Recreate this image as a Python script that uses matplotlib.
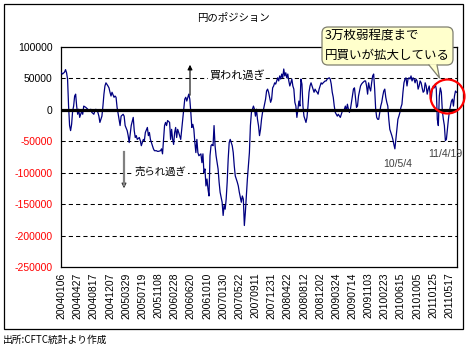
import datetime as dt
import matplotlib
matplotlib.use("Agg")
import matplotlib.pyplot as plt
from matplotlib.patches import FancyBboxPatch, Polygon, Ellipse, Rectangle, FancyArrowPatch
from matplotlib.lines import Line2D
from matplotlib.transforms import IdentityTransform

JP = ['Noto Sans CJK JP', 'DejaVu Sans']
NUM = ['Liberation Sans', 'DejaVu Sans']

title = "円のポジション"
source_note = "出所:CFTC統計より作成"
callout_lines = ["3万枚弱程度まで", "円買いが拡大している"]
label_overbought = "買われ過ぎ"
label_oversold = "売られ過ぎ"
low_labels = ["10/5/4", "11/4/19"]

first_date = "20040106"
tick_labels = ["20040106", "20040427", "20040817", "20041207", "20050329", "20050719",
               "20051108", "20060228", "20060620", "20061010", "20070130", "20070522",
               "20070911", "20071231", "20080422", "20080812", "20081202", "20090324",
               "20090714", "20091103", "20100223", "20100615", "20101005", "20110125",
               "20110517"]
y_ticks = [100000, 50000, 0, -50000, -100000, -150000, -200000, -250000]
grid_levels = [50000, -50000, -100000, -150000, -200000]
n_weeks = 392

# weeks since 2004-01-06 and net yen position (contracts)
week_index = [0, 1, 3, 4, 5, 6, 7, 8, 9, 10, 11, 12, 13, 14, 15, 16, 17, 18, 20, 21, 22, 24, 26, 27,
              29, 30, 32, 33, 34, 36, 37, 38, 40, 41, 42, 43, 44, 46, 47, 48, 49, 50, 52, 53, 54, 55,
              57, 58, 59, 61, 62, 63, 65, 66, 67, 68, 69, 71, 72, 73, 74, 75, 77, 78, 79, 81, 82, 83,
              85, 86, 87, 88, 90, 91, 92, 94, 95, 96, 98, 99, 100, 101, 102, 103, 104, 105, 107, 108,
              109, 110, 111, 112, 113, 114, 115, 116, 118, 119, 120, 121, 122, 123, 124, 126, 127, 128,
              129, 130, 131, 132, 133, 134, 135, 136, 138, 139, 140, 141, 142, 143, 144, 145, 146, 147,
              148, 149, 150, 151, 152, 153, 155, 156, 157, 159, 160, 161, 162, 163, 164, 165, 166, 167,
              169, 170, 171, 172, 174, 175, 176, 178, 179, 180, 181, 182, 183, 184, 186, 187, 188, 190,
              191, 192, 193, 194, 195, 196, 197, 198, 199, 200, 202, 203, 204, 205, 206, 207, 208, 209,
              210, 211, 212, 214, 215, 216, 217, 218, 219, 220, 221, 222, 223, 224, 225, 226, 227, 228,
              229, 230, 231, 232, 233, 234, 235, 236, 237, 238, 239, 240, 241, 242, 243, 244, 245, 246,
              247, 248, 249, 250, 251, 252, 253, 254, 255, 256, 257, 258, 259, 261, 262, 263, 265, 266,
              267, 268, 269, 270, 271, 272, 273, 274, 276, 277, 278, 280, 281, 282, 283, 284, 285, 286,
              288, 289, 290, 291, 292, 293, 294, 296, 297, 298, 300, 301, 302, 303, 304, 305, 306, 307,
              308, 309, 310, 311, 312, 313, 314, 315, 316, 317, 318, 319, 320, 321, 322, 323, 324, 325,
              326, 327, 328, 329, 330, 331, 332, 333, 334, 335, 336, 337, 338, 339, 340, 341, 342, 343,
              344, 345, 346, 347, 348, 349, 350, 351, 352, 353, 354, 355, 356, 357, 358, 359, 360, 361,
              362, 363, 364, 365, 366, 367, 368, 369, 370, 371, 372, 373, 374, 375, 376, 377, 378, 379,
              380, 381, 382, 383, 384, 385, 386, 387, 388, 389, 390, 391]
net_position = [59000, 57000, 60000, 64000, 59000, 49000, 6000, -25000, -33000, -23000, -2000, 6000,
                22000, 25000, 6000, -7000, 1000, -12000, -2000, -7000, 6000, 4000, 1000, -2000,
                1000, -4000, -7000, -2000, 1000, -4000, -10000, -20000, -10000, 6000, 25000, 38000,
                43000, 38000, 35000, 28000, 22000, 28000, 20000, 22000, 20000, 4000,
                -15000, -25000, -10000, -7000, -10000, -25000, -33000, -41000, -52000, -39000, -25000,
                -12000, -33000, -44000, -41000, -47000, -44000, -49000, -57000, -47000, -49000, -36000,
                -28000, -41000, -36000, -47000, -57000, -62000, -65000, -65000, -66000, -66000, -65000,
                -62000, -70000, -47000, -25000, -20000, -25000, -17000, -20000, -47000,
                -31000, -47000, -55000, -36000, -28000, -44000, -31000, -36000, -47000, -31000, -15000,
                1000, 17000, 20000, 14000, 25000, 17000, -4000,
                -28000, -23000, -31000, -52000, -68000, -47000, -68000, -73000, -70000, -84000, -70000,
                -100000, -94000, -121000, -110000, -126000, -137000, -73000,
                -57000, -55000, -57000, -25000, -57000, -73000, -94000, -115000, -131000, -147000,
                -168000, -152000, -158000, -142000, -115000, -78000, -52000, -47000,
                -57000, -68000, -89000, -105000, -115000, -121000, -131000, -147000, -137000, -142000,
                -184000, -163000, -137000, -110000, -68000, -25000, -4000, 6000,
                1000, -10000, 1000, -15000, -25000, -41000, -31000, -15000, -4000, 1000, 17000, 30000,
                33000, 28000, 20000, 12000, 17000, 35000,
                38000, 43000, 41000, 51000, 46000, 54000, 49000, 57000, 51000, 65000, 54000, 59000,
                51000, 57000, 46000, 38000, 43000, 49000,
                38000, 33000, 12000, 6000, -12000, 1000, 14000, 6000, 49000, 41000, 6000, -10000,
                -15000, -20000, -12000, 6000, 28000, 38000,
                43000, 38000, 33000, 28000, 33000, 30000, 28000, 25000, 33000, 38000, 43000, 41000,
                43000, 46000, 46000, 49000, 51000, 49000,
                41000, 28000, 20000, 6000, -4000, -7000, -10000, -7000, -12000, -7000, -2000, 1000,
                6000, -2000, 9000, 1000, -4000, 1000,
                22000, 33000, 35000, 20000, 4000, 6000, 22000, 38000, 41000, 43000, 46000, 46000,
                38000, 25000, 43000, 35000, 30000, 43000,
                54000, 57000, 33000, 1000, -12000, -15000, -15000, -4000, 6000, 12000, 22000, 30000,
                33000, 20000, 12000, 6000, -15000, -31000,
                -36000, -41000, -47000, -55000, -62000, -47000, -31000, -15000, -10000, -4000, 4000,
                9000, 28000, 43000, 49000, 51000, 38000, 49000,
                51000, 49000, 54000, 46000, 51000, 49000, 43000, 49000, 46000, 33000, 38000, 46000,
                43000, 35000, 28000, 30000, 43000, 38000,
                25000, 33000, 38000, 25000, 17000, 33000, 38000, 35000, 41000, 33000, -15000, -25000,
                22000, 35000, 28000, -2000, -15000, -25000,
                -49000, -47000, -31000, -15000, -2000, 6000, 14000, 17000, 6000, 22000, 30000, 28000]

W, H = 469, 350
fig = plt.figure(figsize=(W / 100, H / 100), dpi=100)
fig.patch.set_facecolor('white')


def fx(px):
    return px / W


def fy(py):
    return 1 - py / H


def disp(px, py):
    return (px, H - py)


ax = fig.add_axes([fx(61), fy(267), (457 - 61) / W, (267 - 47) / H])
ax.plot(week_index, net_position, color='#000080', lw=0.9, zorder=3)
ax.axhline(0, color='black', lw=2.3, zorder=4)
for lvl in grid_levels:
    ax.axhline(lvl, color='black', lw=0.75, ls=(0, (4, 3)), zorder=1)
ax.set_xlim(-0.5, n_weeks - 0.5)
ax.set_ylim(-250000, 100000)

base = dt.datetime.strptime(first_date, "%Y%m%d")
tick_pos = [round((dt.datetime.strptime(s, "%Y%m%d") - base).days / 7) for s in tick_labels]
ax.set_xticks(tick_pos)
ax.set_xticklabels(tick_labels, rotation=90, fontsize=7.5, family=NUM, va='top', ha='center')
ax.set_yticks(y_ticks)
ax.set_yticklabels([str(v) for v in y_ticks], fontsize=7.5, family=NUM)
for lbl, v in zip(ax.get_yticklabels(), y_ticks):
    lbl.set_color('red' if v < 0 else 'black')
ax.tick_params(axis='x', length=0, pad=4)
ax.tick_params(axis='y', length=0, pad=6)
for sp in ax.spines.values():
    sp.set_linewidth(0.9)
    sp.set_color('black')

# outer frame
fig.add_artist(Rectangle(disp(4, 329), 459, 325, transform=IdentityTransform(),
                         fill=False, edgecolor='black', lw=0.9))

fig.text(fx(233), fy(18), title, ha='center', va='center', fontsize=7.5, family=JP)
fig.text(fx(3), fy(340), source_note, ha='left', va='center', fontsize=7, family=JP)

# overbought / oversold annotations
fig.text(fx(209), fy(75), label_overbought, ha='left', va='center', fontsize=8, family=JP,
         bbox=dict(facecolor='white', edgecolor='none', pad=0.5))
fig.add_artist(FancyArrowPatch(disp(190, 98), disp(190, 62), transform=IdentityTransform(),
                               arrowstyle='-|>', mutation_scale=7, color='black', lw=0.8))
fig.text(fx(135), fy(172), label_oversold, ha='left', va='center', fontsize=7.5, family=JP,
         bbox=dict(facecolor='white', edgecolor='none', pad=0.5))
fig.add_artist(Line2D([124, 124], [H - 152, H - 185], transform=IdentityTransform(),
                      color='#808080', lw=1.6))
fig.add_artist(FancyArrowPatch(disp(124, 181), disp(124, 191), transform=IdentityTransform(),
                               arrowstyle='-|>', mutation_scale=7, color='#333333', lw=0.8))

fig.text(fx(398), fy(164), low_labels[0], ha='center', va='center', fontsize=7.5,
         family=NUM, color='#404040')
fig.text(fx(445), fy(154), low_labels[1], ha='center', va='center', fontsize=7.5,
         family=NUM, color='#404040')

# callout
box_fc = '#FFFFCC'
box_ec = '#7f7f6f'
fig.add_artist(FancyBboxPatch(disp(322, 65), 131, 38, transform=IdentityTransform(),
                              boxstyle='round,pad=0,rounding_size=6', facecolor=box_fc,
                              edgecolor=box_ec, lw=0.9, zorder=5))
fig.add_artist(Polygon([disp(429, 64.2), disp(439.5, 78), disp(437, 64.2)], closed=True,
                       transform=IdentityTransform(), facecolor=box_fc, edgecolor='none', zorder=6))
fig.add_artist(Line2D([429, 439.5, 437], [H - 65, H - 78, H - 65], transform=IdentityTransform(),
                      color=box_ec, lw=0.9, zorder=7))
fig.text(fx(324.5), fy(35.5), callout_lines[0], ha='left', va='center', fontsize=9, family=JP, zorder=8)
fig.text(fx(324.5), fy(55), callout_lines[1], ha='left', va='center', fontsize=9, family=JP, zorder=8)

# red circle
fig.add_artist(Ellipse(disp(447.5, 96.5), 34, 34, transform=IdentityTransform(),
                       fill=False, edgecolor='red', lw=1.6, zorder=9))

fig.savefig('out.png', dpi=100)
